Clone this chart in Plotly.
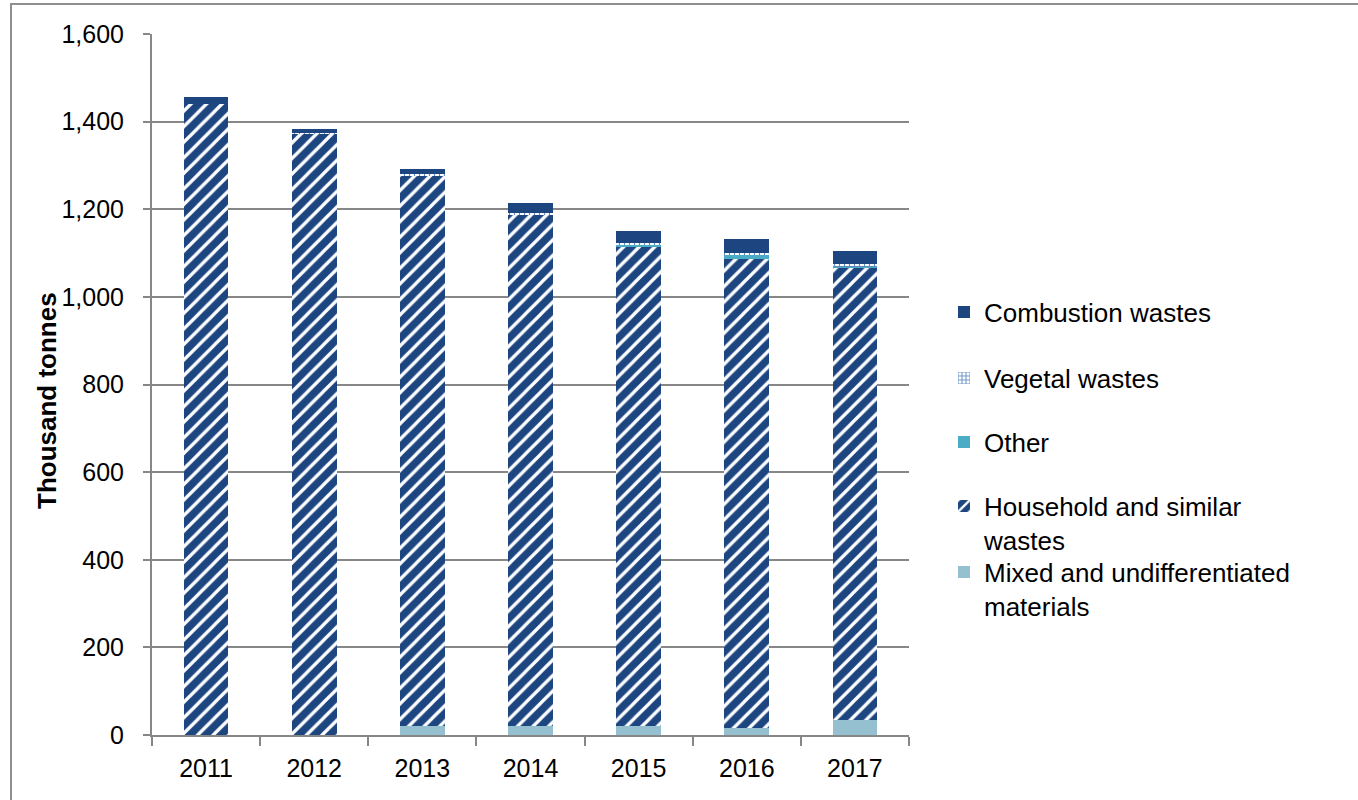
import plotly.graph_objects as go

years = ["2011", "2012", "2013", "2014", "2015", "2016", "2017"]
mixed = [0, 0, 21, 21, 21, 17, 35]
household = [1441, 1372, 1257, 1168, 1093, 1069, 1030]
other = [0, 0, 0, 0, 4, 9, 5]
vegetal = [0, 2, 2, 2, 5, 5, 4]
combustion = [15, 9, 12, 23, 27, 31, 30]

W, H = 1358, 800
X0, X1, Y0, Y1 = 152, 909, 34, 735   # plot area in page pixels
L, R, T, B = X0, W - X1, Y0, H - Y1
pw, ph = X1 - X0, Y1 - Y0

def py(ypix):
    return (Y1 - ypix) / ph

def px(xpix):
    return (xpix - X0) / pw

DARK = "#1d4580"
FONT = "Liberation Sans, Arial, sans-serif"
fig = go.Figure()
fig.add_bar(x=years, y=mixed, name="Mixed and undifferentiated<br>materials",
            marker=dict(color="#95c0d0", line_width=0), legend="legend5")
fig.add_bar(x=years, y=household, name="Household and similar<br>wastes",
            marker=dict(color=DARK, line_width=0,
                        pattern=dict(shape="/", fgcolor="white", bgcolor=DARK,
                                     size=11, solidity=0.3, fillmode="replace")),
            legend="legend4")
fig.add_bar(x=years, y=other, name="Other",
            marker=dict(color="#4bacc6", line_width=0), legend="legend3")
fig.add_bar(x=years, y=vegetal, name="Vegetal wastes",
            marker=dict(color="#7fa4d2", line_width=0,
                        pattern=dict(shape="+", fgcolor="#5f8ac4", bgcolor="white",
                                     size=5, solidity=0.4, fillmode="replace")),
            legend="legend2")
fig.add_bar(x=years, y=combustion, name="Combustion wastes",
            marker=dict(color=DARK, line_width=0), legend="legend")

def leg(ycenter):
    return dict(x=px(944), y=py(ycenter), xanchor="left", yanchor="middle",
                valign="top", font=dict(size=26, family=FONT, color="black"),
                bgcolor="rgba(0,0,0,0)", borderwidth=0, visible=True)

fig.update_layout(
    width=W, height=H, barmode="stack", bargap=0.587, showlegend=True,
    margin=dict(l=L, r=R, t=T, b=B),
    paper_bgcolor="white", plot_bgcolor="white",
    font=dict(family=FONT, size=25, color="#000000"),
    legend=leg(312), legend2=leg(378), legend3=leg(442),
    legend4=leg(523), legend5=leg(589),
    xaxis=dict(type="category", showline=True, linecolor="#878787", linewidth=2,
               ticks="outside", tickson="boundaries", ticklen=9, tickcolor="#878787",
               tickwidth=2, tickfont=dict(size=25), showgrid=False,
               ticklabelstandoff=10),
    yaxis=dict(range=[0, 1600], dtick=200, tickformat=",d", showline=True,
               linecolor="#878787", linewidth=2, ticks="outside", ticklen=7,
               tickcolor="#878787", tickwidth=2, gridcolor="#878787", gridwidth=2,
               tickfont=dict(size=25), zeroline=False, ticklabelstandoff=14),
)

fig.add_annotation(text="<b>Thousand tonnes</b>", textangle=-90, showarrow=False,
                   xref="paper", yref="paper", x=px(47), y=py(401),
                   xanchor="center", yanchor="middle", font=dict(size=26, family=FONT))

fig.add_shape(type="rect", xref="paper", yref="paper",
              x0=px(11), x1=px(W + 20), y0=py(H + 20), y1=py(4),
              line=dict(color="#8f8f8f", width=2), fillcolor="rgba(0,0,0,0)", layer="below")

fig.write_html("out.html", config={"displayModeBar": False},
               post_script="document.body.style.margin='0';")
